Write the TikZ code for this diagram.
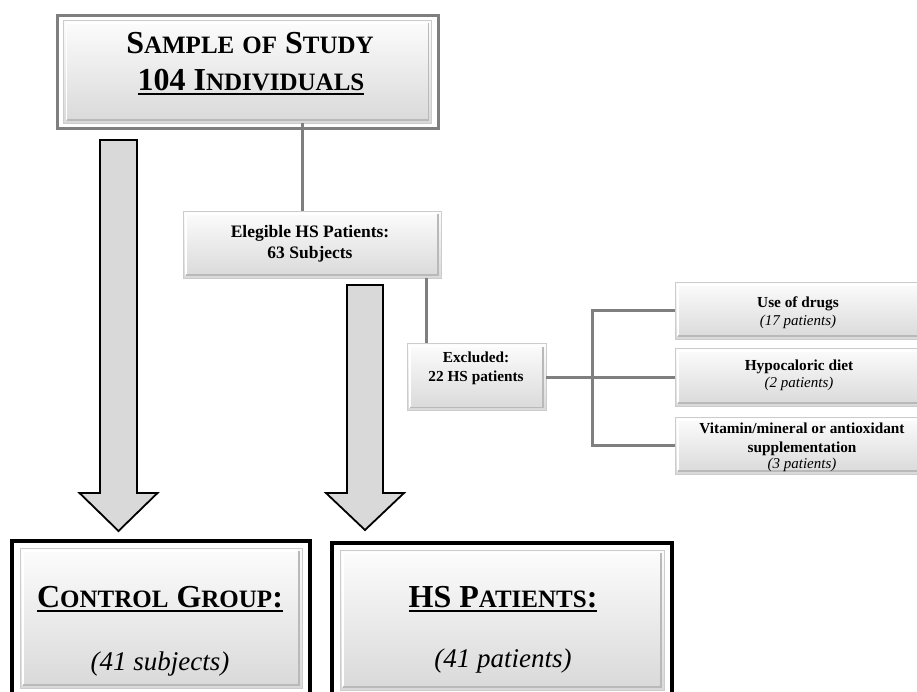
\documentclass[tikz,border=0pt]{standalone}
\usepackage{fontspec}
\setmainfont{Liberation Serif}
\usetikzlibrary{calc}
\definecolor{lnk}{HTML}{7F7F7F}
\definecolor{afill}{HTML}{D9D9D9}
\newcommand\ulbox[1]{\setbox0\hbox{#1}\rlap{\rule[-5pt]{\wd0}{2.2pt}}\box0}
\newcommand\smc[1]{{\fontsize{25}{25}\selectfont #1}}
\begin{document}
\begin{tikzpicture}[x=1pt,y=-1pt,
  panel/.style={draw=gray!40, line width=0.7pt, top color=gray!2, bottom color=gray!30,
    inner sep=0pt,
    path picture={
      \draw[white, line width=1.6pt]
        ($(path picture bounding box.south west)+(3,-3)$) --
        ($(path picture bounding box.north west)+(3,3)$) --
        ($(path picture bounding box.north east)+(-3,3)$);
      \draw[gray!55, line width=1.2pt]
        ($(path picture bounding box.north east)+(-3,3)$) --
        ($(path picture bounding box.south east)+(-3,-3)$) --
        ($(path picture bounding box.south west)+(3,-3)$);
    }},
  grayframe/.style={draw=lnk, line width=3pt, inner sep=0pt},
  blackframe/.style={draw=black, line width=4pt, inner sep=0pt},
  link/.style={draw=lnk, line width=3pt},
  blockarrow/.style={draw=black, fill=afill, line width=1.8pt, line join=miter},
  big/.style={anchor=base, inner sep=0pt, font=\bfseries\fontsize{32}{32}\selectfont},
  bigit/.style={anchor=base, inner sep=0pt, font=\itshape\fontsize{27}{27}\selectfont},
  midtxt/.style={anchor=base, inner sep=0pt, font=\bfseries\fontsize{17.5}{21}\selectfont},
  smtxt/.style={anchor=base, inner sep=0pt, font=\bfseries\fontsize{15.3}{19}\selectfont},
  smit/.style={anchor=base, inner sep=0pt, font=\itshape\fontsize{15}{19}\selectfont}
]
\useasboundingbox (0,0) rectangle (917,691);

% ---------- top box
\node[grayframe, minimum width=381pt, minimum height=113pt] (topout) at (247.5,71.5) {};
\node[panel, minimum width=368pt, minimum height=103pt] (top) at (247.5,71.5) {};
\node[big] (t1) at (250,53) {S\smc{AMPLE} \smc{OF} S\smc{TUDY}};
\node[big] (t2) at (251,90) {\ulbox{104 I\smc{NDIVIDUALS}}};

% ---------- eligible
\node[panel, minimum width=258pt, minimum height=67pt] (eleg) at (312,244.5) {};
\node[midtxt] (e1) at (310,237) {Elegible HS Patients:};
\node[midtxt] (e2) at (310,258) {63 Subjects};

% ---------- excluded
\node[panel, minimum width=139pt, minimum height=67pt] (exc) at (476.5,377) {};
\node[smtxt] (x1) at (476,362) {Excluded:};
\node[smtxt] (x2) at (476,381) {22 HS patients};

% ---------- reasons
\node[panel, minimum width=246pt, minimum height=57pt] (drugs) at (798,310.5) {};
\node[smtxt] (d1) at (798,307) {Use of drugs};
\node[smit] (d2) at (798,325) {(17 patients)};

\node[panel, minimum width=246pt, minimum height=58pt] (hypo) at (798,377) {};
\node[smtxt] (h1) at (799,370) {Hypocaloric diet};
\node[smit] (h2) at (799,387) {(2 patients)};

\node[panel, minimum width=246pt, minimum height=57pt] (vit) at (798,445.5) {};
\node[smtxt] (v1) at (802,433) {Vitamin/mineral or antioxidant};
\node[smtxt] (v2) at (802,452) {supplementation};
\node[smit] (v3) at (802,468) {(3 patients)};

% ---------- bottom boxes
\node[blackframe, minimum width=298pt, minimum height=160pt] (ctrlout) at (161,621) {};
\node[panel, minimum width=282pt, minimum height=140pt] (ctrl) at (161,618) {};
\node[big] (c1) at (160,607) {\ulbox{C\smc{ONTROL} G\smc{ROUP}:}};
\node[bigit] (c2) at (160,670) {(41 subjects)};

\node[blackframe, minimum width=340pt, minimum height=160pt] (hsout) at (502,623) {};
\node[panel, minimum width=324pt, minimum height=140pt] (hs) at (502,620) {};
\node[big] (p1) at (503,607) {\ulbox{HS P\smc{ATIENTS}:}};
\node[bigit] (p2) at (503,667) {(41 patients)};

% ---------- connectors
\coordinate (c302) at (302,0);
\coordinate (c426) at (426,0);
\coordinate (bx) at (592,377);
\draw[link] (top.south -| c302) -- (eleg.north -| c302);
\draw[link] (eleg.south -| c426) -- (exc.north -| c426);
\draw[link] (exc.east) -- (hypo.west);
\draw[link] (drugs.west) -| (bx) |- (vit.west);

% ---------- block arrows
\coordinate (la) at (118.5,140);
\coordinate (lt) at (118.5,531);
\draw[blockarrow] ($(la)+(-18.5,0)$) -- ($(la)+(18.5,0)$) -- ($(lt)+(18.5,-38)$) -- ($(lt)+(39,-38)$)
  -- (lt) -- ($(lt)+(-39,-38)$) -- ($(lt)+(-18.5,-38)$) -- cycle;
\coordinate (ra) at (365,285);
\coordinate (rt) at (365,530);
\draw[blockarrow] ($(ra)+(-18,0)$) -- ($(ra)+(18,0)$) -- ($(rt)+(18,-37)$) -- ($(rt)+(39,-37)$)
  -- (rt) -- ($(rt)+(-39,-37)$) -- ($(rt)+(-18,-37)$) -- cycle;
\end{tikzpicture}
\end{document}
